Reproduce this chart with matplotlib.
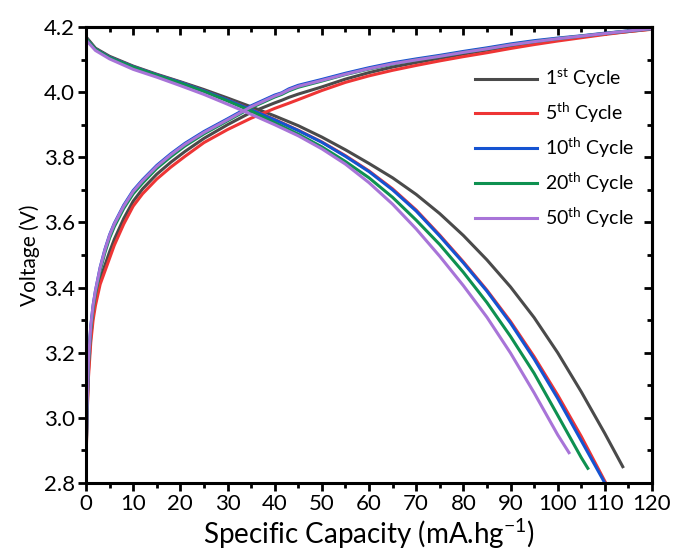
import numpy as np
import matplotlib
matplotlib.use('Agg')
import matplotlib.pyplot as plt
from matplotlib.ticker import MultipleLocator, FormatStrFormatter

plt.rcParams['font.family'] = ['Lato', 'DejaVu Sans']
plt.rcParams['mathtext.fontset'] = 'custom'
plt.rcParams['mathtext.rm'] = 'Lato'
plt.rcParams['mathtext.it'] = 'Lato:italic'

# ---- data ----
labels = ['1$^{\\rm st}$ Cycle', '5$^{\\rm th}$ Cycle', '10$^{\\rm th}$ Cycle',
          '20$^{\\rm th}$ Cycle', '50$^{\\rm th}$ Cycle']
colors = ['#4a4a4a', '#ee3535', '#1553d1', '#0e9150', '#a874d8']

# discharge curves
dis_cap_1 = [0, 2, 5, 10, 15, 20, 25, 30, 35, 40, 45, 50, 55, 60, 65, 70, 75, 80, 85, 90, 95, 100, 105, 110, 113.8]
dis_v_1 = [4.170, 4.135, 4.110, 4.080, 4.055, 4.032, 4.008, 3.982, 3.955, 3.927, 3.897, 3.862, 3.823, 3.781,
           3.737, 3.686, 3.627, 3.560, 3.485, 3.402, 3.308, 3.200, 3.080, 2.952, 2.850]
dis_cap_5 = [0, 2, 5, 10, 15, 20, 25, 30, 35, 40, 45, 50, 55, 60, 65, 70, 75, 80, 85, 90, 95, 100, 105, 110.2]
dis_v_5 = [4.165, 4.132, 4.107, 4.078, 4.053, 4.030, 4.004, 3.976, 3.947, 3.916, 3.883, 3.847, 3.805, 3.758,
           3.703, 3.638, 3.561, 3.479, 3.392, 3.296, 3.188, 3.070, 2.943, 2.800]
dis_cap_10 = [0, 2, 5, 10, 15, 20, 25, 30, 35, 40, 45, 50, 55, 60, 65, 70, 75, 80, 85, 90, 95, 100, 105, 110]
dis_v_10 = [4.165, 4.132, 4.107, 4.078, 4.053, 4.030, 4.004, 3.976, 3.946, 3.915, 3.882, 3.846, 3.803, 3.756,
            3.700, 3.635, 3.558, 3.476, 3.389, 3.291, 3.181, 3.060, 2.930, 2.800]
dis_cap_20 = [0, 2, 5, 10, 15, 20, 25, 30, 35, 40, 45, 50, 55, 60, 65, 70, 75, 80, 85, 90, 95, 100, 105, 106.4]
dis_v_20 = [4.165, 4.132, 4.106, 4.077, 4.052, 4.028, 4.002, 3.973, 3.942, 3.906, 3.871, 3.832, 3.787, 3.737,
            3.677, 3.607, 3.532, 3.447, 3.354, 3.250, 3.137, 3.008, 2.878, 2.845]
dis_cap_50 = [0, 2, 5, 10, 15, 20, 25, 30, 35, 40, 45, 50, 55, 60, 65, 70, 75, 80, 85, 90, 95, 100, 102.4]
dis_v_50 = [4.160, 4.128, 4.102, 4.070, 4.046, 4.020, 3.993, 3.963, 3.932, 3.900, 3.866, 3.826, 3.779, 3.722,
            3.656, 3.580, 3.496, 3.406, 3.309, 3.199, 3.077, 2.948, 2.893]

# charge curves
chg_cap = [0, 0.2, 0.5, 1, 1.5, 2, 3, 4, 5, 6, 8, 10, 12, 15, 18, 21, 25, 30, 35, 40, 41.5, 43, 45, 50,
           55, 60, 65, 70, 75, 80, 85, 90, 95, 100, 105, 110, 115, 120]
chg_v_1 = [2.85, 3.00, 3.14, 3.25, 3.315, 3.36, 3.425, 3.468, 3.51, 3.548, 3.612, 3.665, 3.703, 3.748, 3.785,
           3.818, 3.858, 3.900, 3.938, 3.967, 3.975, 3.984, 3.994, 4.016, 4.040, 4.060, 4.077, 4.091, 4.104,
           4.117, 4.129, 4.141, 4.152, 4.161, 4.170, 4.179, 4.186, 4.194]
chg_v_5 = [2.85, 2.99, 3.12, 3.23, 3.30, 3.345, 3.41, 3.45, 3.49, 3.53, 3.595, 3.650, 3.688, 3.733, 3.770,
           3.803, 3.845, 3.885, 3.920, 3.950, 3.958, 3.966, 3.977, 4.005, 4.030, 4.050, 4.067, 4.082, 4.096,
           4.109, 4.121, 4.134, 4.146, 4.157, 4.167, 4.177, 4.186, 4.193]
chg_v_10 = [2.86, 3.02, 3.17, 3.28, 3.345, 3.39, 3.462, 3.517, 3.562, 3.597, 3.653, 3.698, 3.731, 3.775, 3.811,
            3.843, 3.879, 3.918, 3.958, 3.991, 3.998, 4.010, 4.021, 4.039, 4.058, 4.075, 4.090, 4.102, 4.113,
            4.125, 4.136, 4.148, 4.158, 4.166, 4.173, 4.181, 4.188, 4.195]
chg_v_20 = [2.86, 3.01, 3.16, 3.27, 3.335, 3.38, 3.452, 3.507, 3.552, 3.587, 3.643, 3.688, 3.721, 3.766, 3.802,
            3.835, 3.872, 3.912, 3.952, 3.985, 3.993, 4.004, 4.015, 4.034, 4.054, 4.071, 4.086, 4.099, 4.110,
            4.122, 4.133, 4.145, 4.155, 4.164, 4.172, 4.180, 4.188, 4.195]
chg_v_50 = [2.86, 3.02, 3.17, 3.28, 3.345, 3.39, 3.46, 3.515, 3.56, 3.595, 3.650, 3.695, 3.728, 3.772, 3.808,
            3.840, 3.876, 3.915, 3.955, 3.988, 3.996, 4.007, 4.018, 4.036, 4.055, 4.072, 4.087, 4.099, 4.110,
            4.122, 4.133, 4.145, 4.155, 4.164, 4.172, 4.180, 4.188, 4.195]

dis_caps = [dis_cap_1, dis_cap_5, dis_cap_10, dis_cap_20, dis_cap_50]
dis_vs = [dis_v_1, dis_v_5, dis_v_10, dis_v_20, dis_v_50]
chg_vs = [chg_v_1, chg_v_5, chg_v_10, chg_v_20, chg_v_50]

fig = plt.figure(figsize=(6.73, 5.59), dpi=100)
ax = fig.add_axes([0.1278, 0.136, 0.841, 0.8157])

for i in range(5):
    ax.plot(dis_caps[i], dis_vs[i], color=colors[i], lw=2.2, label=labels[i], solid_joinstyle='round')
    ax.plot(chg_cap, chg_vs[i], color=colors[i], lw=2.2, solid_joinstyle='round')

ax.set_xlim(0, 120)
ax.set_ylim(2.8, 4.2)
ax.xaxis.set_major_locator(MultipleLocator(10))
ax.xaxis.set_minor_locator(MultipleLocator(5))
ax.yaxis.set_major_locator(MultipleLocator(0.2))
ax.yaxis.set_minor_locator(MultipleLocator(0.1))
ax.yaxis.set_major_formatter(FormatStrFormatter('%.1f'))

for s in ax.spines.values():
    s.set_linewidth(2.2)
ax.tick_params(which='major', direction='out', length=6, width=2, labelsize=16, pad=2)
ax.tick_params(which='minor', direction='out', length=3.5, width=2)

# top / right ticks point inward
top = ax.secondary_xaxis('top')
top.xaxis.set_major_locator(MultipleLocator(10))
top.xaxis.set_minor_locator(MultipleLocator(5))
top.tick_params(which='major', direction='in', length=6, width=2, labeltop=False)
top.tick_params(which='minor', direction='in', length=3.5, width=2)
top.spines['top'].set_linewidth(2.2)
right = ax.secondary_yaxis('right')
right.yaxis.set_major_locator(MultipleLocator(0.2))
right.yaxis.set_minor_locator(MultipleLocator(0.1))
right.tick_params(which='major', direction='in', length=6, width=2, labelright=False)
right.tick_params(which='minor', direction='in', length=3.5, width=2)
right.spines['right'].set_linewidth(2.2)

ax.set_xlabel('Specific Capacity (mA.hg$^{-1}$)', fontsize=20, labelpad=2)
ax.set_ylabel('Voltage (V)', fontsize=15, labelpad=3)

ax.legend(loc='upper right', bbox_to_anchor=(1.0, 0.95), frameon=False, fontsize=14,
          handlelength=3.2, handletextpad=0.4, labelspacing=0.55)

fig.savefig('out.png', dpi=100)
